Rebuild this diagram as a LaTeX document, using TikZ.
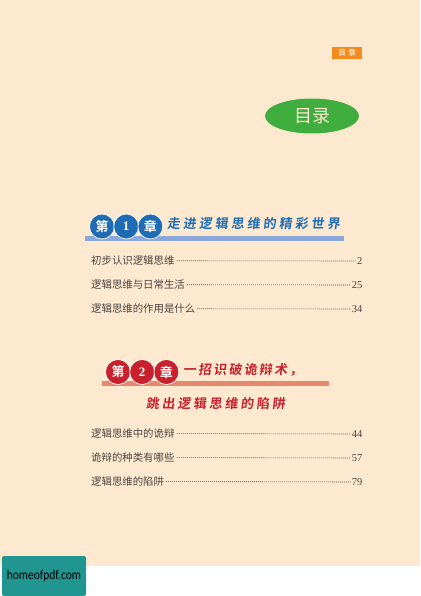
\documentclass[tikz,border=0pt]{standalone}
\usepackage{fontspec}
\setmainfont{Liberation Serif}
\newfontfamily\cjk{Noto Sans CJK SC}
\newfontfamily\cjkbolda[LetterSpace=23,FakeSlant=0.12]{Noto Sans CJK SC Bold}
\newfontfamily\cjkboldb[LetterSpace=17,FakeSlant=0.12]{Noto Sans CJK SC Bold}
\newfontfamily\cjkboldc[LetterSpace=21,FakeSlant=0.12]{Noto Sans CJK SC Bold}
\newfontfamily\cjkhead{Noto Sans CJK SC Bold}
\newfontfamily\webfont[FakeStretch=0.85]{Carlito}
\usetikzlibrary{positioning, shapes.geometric}
\definecolor{pagebg}{HTML}{FDE9D0}
\definecolor{chapblue}{HTML}{1F6CB5}
\definecolor{barblue}{HTML}{8BA8DC}
\definecolor{chapred}{HTML}{C8202C}
\definecolor{barred}{HTML}{E58870}
\definecolor{ovalgreen}{HTML}{3FAE3F}
\definecolor{taborange}{HTML}{F58A1F}
\definecolor{webteal}{HTML}{21958F}
\definecolor{rowgray}{HTML}{4A4440}
\tikzset{
  chapcircle/.style = {circle, draw=white, line width=0.7pt, minimum size=25pt, inner sep=0pt, text=white, font=\cjkhead\fontsize{13}{13}\selectfont},
  chaptitle/.style = {anchor=west, inner sep=0pt},
  rowtext/.style = {anchor=west, inner sep=0pt, text=rowgray, font=\cjk\fontsize{10.4}{12}\selectfont},
  rowpage/.style = {anchor=east, inner sep=0pt, text=rowgray, font=\fontsize{10.5}{12}\selectfont},
  leader/.style = {rowgray, line width=0.6pt, dash pattern=on 1pt off 1pt, shorten <=2pt, shorten >=1pt},
}
\begin{document}
\begin{tikzpicture}[x=1pt, y=-1pt]
  \useasboundingbox (0,0) rectangle (420,596);
  \fill[pagebg] (0,0) rectangle (420,566);

  % top corner
  \node[fill=taborange, minimum width=30.5pt, minimum height=12.5pt, inner sep=0pt, text=pagebg,
    font=\cjkhead\fontsize{7.5}{7.5}\selectfont] (tab) at (347.2,53.2) {目\hspace{2.5pt}录};
  \node[ellipse, fill=ovalgreen, minimum width=94pt, minimum height=35pt, inner sep=0pt, text=pagebg,
    font=\cjk\fontsize{18}{18}\selectfont] (oval) at (312,116) {目录};

  % chapter 1
  \fill[barblue] (85,236) rectangle (344,240.5);
  \node[chapcircle, fill=chapblue] (c1a) at (102,226.5) {第};
  \node[chapcircle, fill=chapblue, right=-1.5pt of c1a] (c1b) {\rmfamily\bfseries 1};
  \node[chapcircle, fill=chapblue, right=-1.5pt of c1b] (c1c) {章};
  \node[chaptitle, text=chapblue, font=\cjkbolda\fontsize{13}{13}\selectfont] (t1) at (167,224) {走进逻辑思维的精彩世界};

  \node[rowtext] (r1) at (91,260.7) {初步认识逻辑思维};
  \node[rowpage] (p1) at (362.5,261) {2};
  \node[rowtext] (r2) at (91,284.7) {逻辑思维与日常生活};
  \node[rowpage] (p2) at (362.5,285) {25};
  \node[rowtext] (r3) at (91,308.7) {逻辑思维的作用是什么};
  \node[rowpage] (p3) at (362.5,309) {34};
  \draw[leader] (r1) -- (p1);
  \draw[leader] (r2) -- (p2);
  \draw[leader] (r3) -- (p3);

  % chapter 2
  \fill[barred] (101.5,381) rectangle (329,386);
  \node[chapcircle, fill=chapred] (c2a) at (118,372) {第};
  \node[chapcircle, fill=chapred, right=-1.5pt of c2a] (c2b) {\rmfamily\bfseries 2};
  \node[chapcircle, fill=chapred, right=-1.5pt of c2b] (c2c) {章};
  \node[chaptitle, text=chapred, font=\cjkboldb\fontsize{13}{13}\selectfont] (t2) at (183,370) {一招识破诡辩术，};
  \node[chaptitle, text=chapred, font=\cjkboldc\fontsize{13}{13}\selectfont] (t3) at (146,404) {跳出逻辑思维的陷阱};

  \node[rowtext] (r4) at (91,433.5) {逻辑思维中的诡辩};
  \node[rowpage] (p4) at (362.5,434) {44};
  \node[rowtext] (r5) at (91,457.5) {诡辩的种类有哪些};
  \node[rowpage] (p5) at (362.5,458) {57};
  \node[rowtext] (r6) at (91,481.5) {逻辑思维的陷阱};
  \node[rowpage] (p6) at (362.5,482) {79};
  \draw[leader] (r4) -- (p4);
  \draw[leader] (r5) -- (p5);
  \draw[leader] (r6) -- (p6);

  % watermark
  \node[fill=webteal, rounded corners=2pt, minimum width=84pt, minimum height=40pt, inner sep=0pt, text=black,
    font=\webfont\fontsize{13.5}{14}\selectfont] (web) at (44,576) {homeofpdf.com};
\end{tikzpicture}
\end{document}
